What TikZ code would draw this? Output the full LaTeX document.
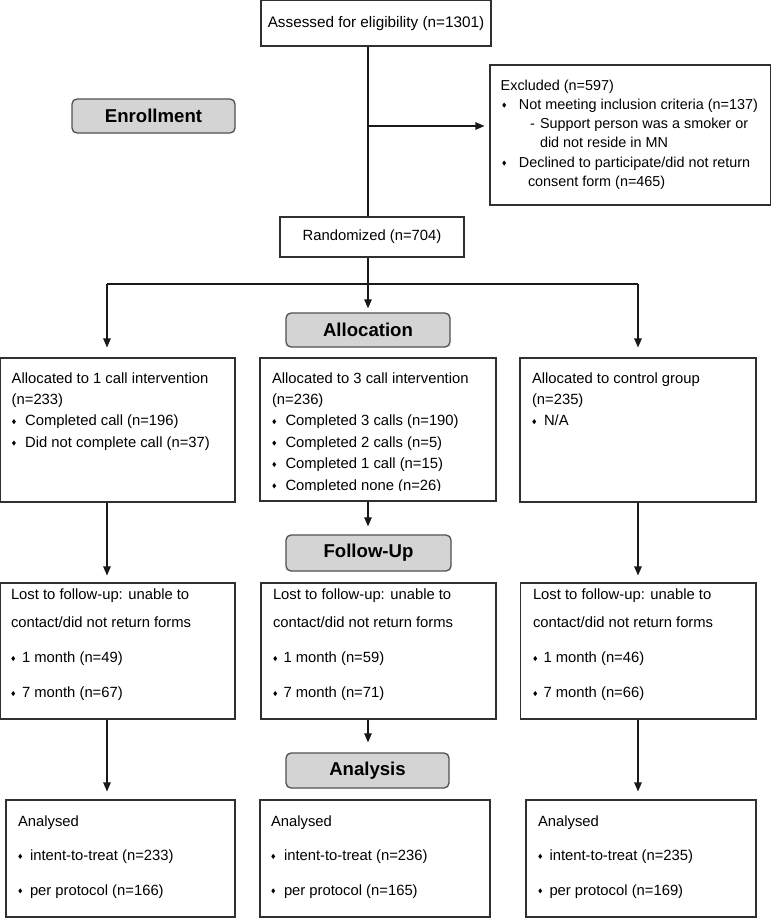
\documentclass[tikz,border=0pt]{standalone}
\usepackage{fontspec}
\setmainfont{Liberation Sans}
\usetikzlibrary{arrows.meta}
\definecolor{lblfill}{HTML}{D4D4D4}
\definecolor{lbldraw}{HTML}{505050}
\definecolor{boxdraw}{HTML}{303030}
\newcommand{\bul}[1][13.5pt]{\makebox[#1][l]{\hspace{0.3pt}\raisebox{1.6pt}{\scalebox{0.75}[1]{\rotatebox{45}{\rule{3.6pt}{3.6pt}}}}}}
\newcommand{\lns}[1]{\begin{tabular}[t]{@{}l@{}}#1\end{tabular}}
\begin{document}
\begin{tikzpicture}[x=1pt,y=-1pt,
  box/.style={draw=boxdraw, line width=1.1pt, inner sep=0pt, fill=white},
  lbl/.style={draw=lbldraw, fill=lblfill, rounded corners=5pt, line width=1.3pt, inner sep=0pt, font=\fontsize{18.6}{22}\selectfont\bfseries},
  txt/.style={anchor=base west, inner sep=0pt, outer sep=0pt},
  ln/.style={line width=1.1pt, draw=black!90},
  arr/.style={ln, -{Triangle[length=9pt,width=7.5pt]}},
  bodyA/.style={font=\fontsize{14.8}{21.4}\selectfont},
  bodyB/.style={font=\fontsize{14.8}{28.4}\selectfont},
  bodyC/.style={font=\fontsize{14.8}{34.5}\selectfont},
  bodyE/.style={font=\fontsize{14.4}{19.3}\selectfont}
]
\useasboundingbox (0,0) rectangle (772,918);

% main boxes
\node[box, minimum width=230pt, minimum height=45.4pt, font=\fontsize{15.3}{18}\selectfont] (assess) at (376,23.3) {Assessed for eligibility (n=1301)};
\node[box, minimum width=280.5pt, minimum height=140pt] (excl) at (630.25,135) {};
\node[box, minimum width=184pt, minimum height=40pt, font=\fontsize{14.8}{18}\selectfont] (rand) at (372,237) {Randomized (n=704)};

% stage labels
\node[lbl, minimum width=163pt, minimum height=34pt] (enroll) at (153.5,116) {Enrollment};
\node[lbl, minimum width=164pt, minimum height=34pt] (alloc) at (368,330) {Allocation};
\node[lbl, minimum width=165pt, minimum height=36pt] (fu) at (368.5,553) {Follow-Up};
\node[lbl, minimum width=163pt, minimum height=35pt] (an) at (367.5,770.5) {Analysis};

% allocation row
\node[box, minimum width=234.4pt, minimum height=144pt] (a1) at (117.8,430) {};
\node[box, minimum width=236pt, minimum height=143pt] (a2) at (378,429.5) {};
\node[box, minimum width=236pt, minimum height=144pt] (a3) at (638,430) {};

% follow-up row
\node[box, minimum width=234.4pt, minimum height=136pt] (f1) at (117.8,651) {};
\node[box, minimum width=235pt, minimum height=136pt] (f2) at (378.5,651) {};
\node[box, minimum width=235.5pt, minimum height=136pt] (f3) at (638.25,651) {};

% analysis row
\node[box, minimum width=229pt, minimum height=117pt] (n1) at (120.5,858.5) {};
\node[box, minimum width=230pt, minimum height=117pt] (n2) at (375,858.5) {};
\node[box, minimum width=230pt, minimum height=117pt] (n3) at (641,858.5) {};

% texts
\node[txt, bodyE] (tex) at (500.7,90) {\lns{Excluded (n=597)\\
\hspace*{1.25pt}\bul[17pt]Not meeting inclusion criteria (n=137)\\
\hspace*{29.3pt}\makebox[10pt][l]{-}Support person was a smoker or\\
\hspace*{39.3pt}did not reside in MN\\
\hspace*{1.25pt}\bul[17pt]Declined to participate/did not return\\
\hspace*{27.3pt}consent form (n=465)}};

\node[txt, bodyA] (ta1) at (11.7,383) {\lns{Allocated to 1 call intervention\\(n=233)\\\bul Completed call (n=196)\\\bul Did not complete call (n=37)}};
\begin{scope}
\clip (260,358) rectangle (496,490.6);
\node[txt, bodyA] (ta2) at (272,383) {\lns{Allocated to 3 call intervention\\(n=236)\\\bul Completed 3 calls (n=190)\\\bul Completed 2 calls (n=5)\\\bul Completed 1 call (n=15)\\\bul Completed none (n=26)}};
\end{scope}
\node[txt, bodyA] (ta3) at (532,383) {\lns{Allocated to control group\\(n=235)\\\bul[12pt]N/A}};

\node[txt, bodyB] (tf1) at (11,599.3) {\lns{Lost to follow-up: unable to\\contact/did not return forms\\[6.6pt]\bul[11pt]1 month (n=49)\\[6.6pt]\bul[11pt]7 month (n=67)}};
\node[txt, bodyB] (tf2) at (273,599.3) {\lns{Lost to follow-up: unable to\\contact/did not return forms\\[6.6pt]\bul[10.5pt]1 month (n=59)\\[6.6pt]\bul[10.5pt]7 month (n=71)}};
\node[txt, bodyB] (tf3) at (533,599.3) {\lns{Lost to follow-up: unable to\\contact/did not return forms\\[6.6pt]\bul[10.5pt]1 month (n=46)\\[6.6pt]\bul[10.5pt]7 month (n=66)}};

\node[txt, bodyC] (tn1) at (18,826) {\lns{Analysed\\\bul[12pt]intent-to-treat (n=233)\\\bul[12pt]per protocol (n=166)}};
\node[txt, bodyC] (tn2) at (271,826) {\lns{Analysed\\\bul[13pt]intent-to-treat (n=236)\\\bul[13pt]per protocol (n=165)}};
\node[txt, bodyC] (tn3) at (538,826) {\lns{Analysed\\\bul[11.5pt]intent-to-treat (n=235)\\\bul[11.5pt]per protocol (n=169)}};

% connectors
\coordinate (mx) at (368,0);
\coordinate (ey) at (0,126);
\coordinate (sl) at (107,284);
\coordinate (sr) at (638,284);

\draw[ln] (assess.south -| mx) -- (rand.north -| mx);
\draw[arr, shorten >=5pt] (mx |- ey) -- (excl.west |- ey);
\draw[ln] (sl) -- (sr);
\draw[arr, shorten >=4pt] (rand.south -| mx) -- (alloc.north -| mx);
\draw[arr, shorten >=10pt] (sl) -- (a1.north -| sl);
\draw[arr, shorten >=10pt] (sr) -- (a3.north -| sr);
\draw[arr, shorten >=7pt] (a1.south -| sl) -- (f1.north -| sl);
\draw[arr, shorten >=8pt] (a2.south -| mx) -- (fu.north -| mx);
\draw[arr, shorten >=7pt] (a3.south -| sr) -- (f3.north -| sr);
\draw[arr, shorten >=8pt] (f1.south -| sl) -- (n1.north -| sl);
\draw[arr, shorten >=10pt] (f2.south -| mx) -- (an.north -| mx);
\draw[arr, shorten >=8pt] (f3.south -| sr) -- (n3.north -| sr);
\end{tikzpicture}
\end{document}
